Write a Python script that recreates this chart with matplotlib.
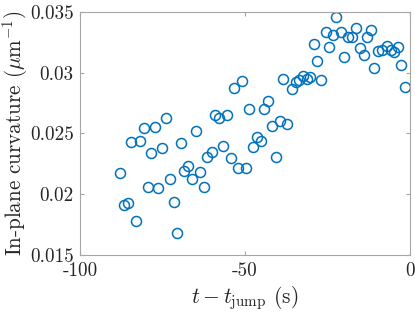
import numpy as np
import matplotlib
matplotlib.use("Agg")
import matplotlib.pyplot as plt

plt.rcParams['font.family'] = 'serif'
plt.rcParams['font.serif'] = ['cmr10', 'DejaVu Serif']
plt.rcParams['mathtext.fontset'] = 'cm'
plt.rcParams['axes.unicode_minus'] = False
plt.rcParams['axes.formatter.use_mathtext'] = True

# time relative to the jump (s)
t_rel = [-87.9, -86.7, -85.4, -84.5, -83.0, -81.7, -80.5, -79.4, -78.4, -77.2,
         -76.4, -75.2, -73.9, -72.8, -71.6, -70.6, -69.4, -68.4, -67.2, -66.0,
         -64.8, -63.6, -62.4, -61.4, -60.0, -59.1, -57.9, -56.8, -55.5, -54.2,
         -53.2, -52.2, -51.0, -49.8, -48.7, -47.6, -46.4, -45.2, -44.2, -42.9,
         -41.8, -40.7, -39.4, -38.4, -37.3, -35.9, -34.5, -33.5, -32.3, -31.3,
         -30.3, -29.1, -28.1, -27.0, -25.6, -24.5, -23.3, -22.3, -21.0, -19.9,
         -18.8, -17.7, -16.4, -15.2, -14.1, -13.1, -11.9, -10.8, -9.6, -8.5,
         -7.1, -5.8, -4.8, -3.5, -2.7, -1.6]

# in-plane curvature (1/um)
curv = [0.02171, 0.01906, 0.01929, 0.02427, 0.01774, 0.02437, 0.02540, 0.02058, 0.02339, 0.02553,
        0.02048, 0.02377, 0.02625, 0.02119, 0.01933, 0.01682, 0.02417, 0.02189, 0.02229, 0.02123,
        0.02516, 0.02184, 0.02061, 0.02306, 0.02347, 0.02652, 0.02624, 0.02396, 0.02649, 0.02297,
        0.02876, 0.02215, 0.02928, 0.02213, 0.02699, 0.02388, 0.02468, 0.02435, 0.02701, 0.02767,
        0.02563, 0.02300, 0.02602, 0.02946, 0.02575, 0.02868, 0.02923, 0.02940, 0.02970, 0.02944,
        0.02962, 0.03235, 0.03096, 0.02937, 0.03333, 0.03213, 0.03313, 0.03456, 0.03331, 0.03128,
        0.03296, 0.03296, 0.03370, 0.03203, 0.03144, 0.03290, 0.03353, 0.03035, 0.03181, 0.03185,
        0.03220, 0.03187, 0.03171, 0.03214, 0.03059, 0.02880]

xticks = [-100, -50, 0]
yticks = [0.015, 0.02, 0.025, 0.03, 0.035]
ytick_labels = ['0.015', '0.02', '0.025', '0.03', '0.035']

fig = plt.figure(figsize=(4.15, 3.12), dpi=100)
ax = fig.add_axes([0.193, 0.184, 0.795, 0.778])

ax.plot(t_rel, curv, 'o', mfc='none', mec='#0072BD', ms=7.2, mew=1.1)

ax.set_xlim(-100, 0)
ax.set_ylim(0.015, 0.035)
ax.set_xticks(xticks)
ax.set_xticklabels([str(v) for v in xticks])
ax.set_yticks(yticks)
ax.set_yticklabels(ytick_labels)

for s in ax.spines.values():
    s.set_color('#a6a6a6')
    s.set_linewidth(0.8)
ax.tick_params(direction='in', top=True, right=True, length=3, width=0.8,
               color='#a6a6a6', labelsize=13.8, labelcolor='#262626')
ax.tick_params(axis='x', pad=5.5)
ax.tick_params(axis='y', pad=4.5)

ax.set_xlabel(r'$t - t_{\rm jump}$ (s)', fontsize=15.5, color='#262626', labelpad=3)
ax.set_ylabel(r'In-plane curvature ($\mu$m$^{-1}$)', fontsize=15.2, color='#262626', labelpad=0)

fig.savefig('out.png', dpi=100)
